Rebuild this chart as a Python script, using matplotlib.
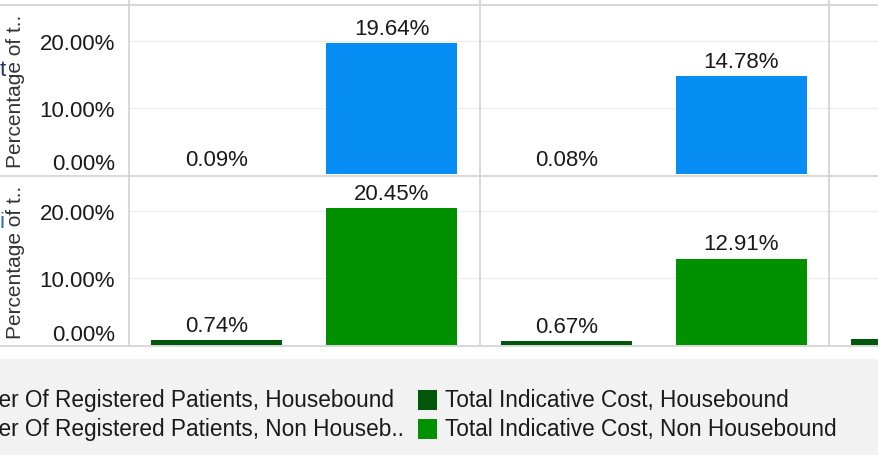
import matplotlib
matplotlib.use("Agg")
from matplotlib import pyplot as plt
from matplotlib.lines import Line2D
from matplotlib import patches

plt.rcParams['font.family'] = ['Liberation Sans', 'DejaVu Sans']

# values, in percent, per column (third column only partly visible)
patients_housebound = [0.09, 0.08, 0.10]
patients_non_housebound = [19.64, 14.78, 16.0]
cost_housebound = [0.74, 0.67, 1.00]
cost_non_housebound = [20.45, 12.91, 14.0]

y_ticks = [0, 10, 20]
y_tick_labels = ["0.00%", "10.00%", "20.00%"]
y_title = "Percentage of t.."

legend_labels = [
    "Number Of Registered Patients, Housebound",
    "Number Of Registered Patients, Non Houseb..",
    "Total Indicative Cost, Housebound",
    "Total Indicative Cost, Non Housebound",
]

c_pat_hb = "#0b3d91"
c_pat_nhb = "#078ef5"
c_cost_hb = "#00560a"
c_cost_nhb = "#009000"
line_c = "#d2d2d2"

W, H = 879, 456
fig = plt.figure(figsize=(W / 100, H / 100), dpi=100)


def fx(px):
    return px / W


def fy(py):
    return 1 - py / H


def panel(top, bottom, dark_vals, light_vals, dark_c, light_c, ylim):
    ax = fig.add_axes([fx(129), fy(bottom), fx(W - 129), (bottom - top) / H])
    n = len(dark_vals)
    xs_dark = [i + 0.25 for i in range(n)]
    xs_light = [i + 0.75 for i in range(n)]
    b1 = ax.bar(xs_dark, dark_vals, width=0.375, color=dark_c)
    b2 = ax.bar(xs_light, light_vals, width=0.375, color=light_c)
    for bars, vals in ((b1, dark_vals), (b2, light_vals)):
        for rect, v in zip(bars, vals):
            ax.annotate(f"{v:.2f}%", (rect.get_x() + rect.get_width() / 2, v),
                        xytext=(0, 3), textcoords="offset points",
                        ha="center", va="bottom", fontsize=16, color="#1a1a1a",
                        annotation_clip=True)
    ax.set_xlim(0, 750 / 350)
    ax.set_ylim(*ylim)
    ax.set_yticks(y_ticks)
    ax.set_yticklabels(y_tick_labels, fontsize=16, color="#1a1a1a")
    ax.get_yticklabels()[0].set_va("bottom")
    ax.tick_params(axis="y", length=0, pad=10)
    ax.set_xticks([])
    for y in y_ticks[1:]:
        ax.axhline(y, color="#eeeeee", lw=1, zorder=0)
    for s in ax.spines.values():
        s.set_visible(False)
    fig.text(fx(16), fy((top + bottom) / 2), y_title, rotation=90,
             ha="center", va="center", fontsize=15, color="#333333")
    return ax


panel(6, 177, patients_housebound, patients_non_housebound, c_pat_hb, c_pat_nhb, (-0.25, 25.4))
panel(177, 347, cost_housebound, cost_non_housebound, c_cost_hb, c_cost_nhb, (-0.1, 25.2))

# grid borders of the table
for py in (6, 177, 347):
    fig.add_artist(Line2D([0, 1], [fy(py), fy(py)], color=line_c, lw=1.2))
for px in (129, 480, 829):
    fig.add_artist(Line2D([fx(px), fx(px)], [fy(0), fy(347)], color=line_c, lw=1.2))

# cut off row headers at the left edge
fig.text(fx(6), fy(70), "t", ha="right", va="center", fontsize=16, color="#1f3864")
fig.text(fx(5), fy(222), "i", ha="right", va="center", fontsize=16, color="#2a6ebb")

# legend area
fig.add_artist(patches.Rectangle((0, 0), 1, fy(360), transform=fig.transFigure,
                                 facecolor="#f2f2f2", edgecolor="none", zorder=0))
rows = [401, 430]
cols = [-62, 445]
colors = [c_pat_hb, c_pat_nhb, c_cost_hb, c_cost_nhb]
for i, (lab, col) in enumerate(zip(legend_labels, colors)):
    x0 = cols[i // 2]
    y0 = rows[i % 2]
    fig.add_artist(patches.Rectangle((fx(x0 - 27), fy(y0 + 10)), fx(19), 20 / H,
                                     transform=fig.transFigure, facecolor=col,
                                     edgecolor="none"))
    fig.text(fx(x0), fy(y0), lab, ha="left", va="center", fontsize=16.3, color="#1a1a1a")

fig.savefig("out.png", dpi=100)
